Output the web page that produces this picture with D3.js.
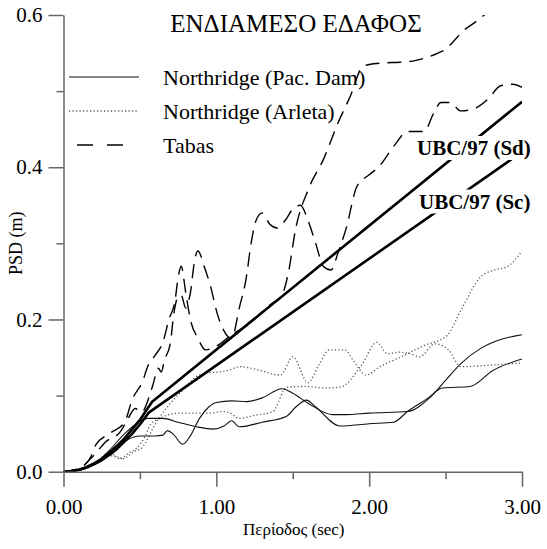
<!DOCTYPE html>
<html>
<head>
<meta charset="utf-8">
<script src="https://cdn.jsdelivr.net/npm/d3@7"></script>
<style>
body { margin: 0; background: #fff; }
.axis path, .axis line { stroke: #666; stroke-width: 1.5; }
</style>
</head>
<body>
<svg id="chart"></svg>
<script>
/* global d3 */

const title = 'ΕΝΔΙΑΜΕΣΟ ΕΔΑΦΟΣ';
const xLabel = 'Περίοδος (sec)';
const yLabel = 'PSD (m)';
const xTicks = [0, 1, 2, 3];
const xMinor = [0.5, 1.5, 2.5];
const yTicks = [0, 0.2, 0.4, 0.6];
const yMinor = [0.1, 0.3, 0.5];

// [period (sec), PSD (m)]
const ubcSd = [[0, 0], [0.05, 0.0005], [0.1, 0.0025], [0.15, 0.006], [0.2, 0.011], [0.25, 0.017], [0.3, 0.025],
	[0.35, 0.034], [0.4, 0.044], [0.45, 0.056], [0.5, 0.068], [0.55, 0.083], [0.58, 0.092], [3, 0.486]];
const ubcSc = [[0, 0], [0.05, 0.0005], [0.1, 0.0023], [0.15, 0.0055], [0.2, 0.01], [0.25, 0.0155], [0.3, 0.022],
	[0.35, 0.03], [0.4, 0.04], [0.45, 0.05], [0.5, 0.062], [0.56, 0.078], [3, 0.42]];

const pacDam1 = [[0, 0], [0.1, 0.002], [0.2, 0.009], [0.25, 0.014], [0.3, 0.022], [0.36, 0.032], [0.42, 0.042],
	[0.5, 0.047], [0.6, 0.047], [0.65, 0.048], [0.68, 0.054], [0.72, 0.049], [0.78, 0.036], [0.83, 0.047],
	[0.89, 0.07], [0.95, 0.085], [1.0, 0.091], [1.1, 0.093], [1.2, 0.092], [1.3, 0.097], [1.43, 0.109],
	[1.5, 0.103], [1.6, 0.09], [1.76, 0.075], [1.85, 0.075], [2.0, 0.077], [2.25, 0.079], [2.39, 0.096],
	[2.5, 0.12], [2.6, 0.142], [2.73, 0.162], [2.85, 0.173], [3.0, 0.18]];
const pacDam2 = [[0, 0], [0.1, 0.002], [0.2, 0.01], [0.3, 0.028], [0.4, 0.05], [0.5, 0.066], [0.55, 0.07],
	[0.65, 0.07], [0.75, 0.065], [0.87, 0.059], [0.98, 0.056], [1.05, 0.06], [1.1, 0.067], [1.15, 0.059],
	[1.3, 0.065], [1.46, 0.073], [1.52, 0.085], [1.59, 0.094], [1.65, 0.085], [1.81, 0.06], [2.0, 0.063],
	[2.16, 0.065], [2.25, 0.079], [2.38, 0.096], [2.48, 0.11], [2.66, 0.112], [2.81, 0.133], [3.0, 0.148]];

const arleta1 = [[0, 0], [0.1, 0.002], [0.2, 0.009], [0.3, 0.025], [0.35, 0.02], [0.39, 0.017], [0.45, 0.025],
	[0.52, 0.033], [0.58, 0.055], [0.63, 0.072], [0.7, 0.09], [0.77, 0.105], [0.87, 0.125], [0.95, 0.13],
	[1.02, 0.131], [1.09, 0.134], [1.15, 0.138], [1.25, 0.135], [1.42, 0.127], [1.5, 0.151], [1.6, 0.117],
	[1.67, 0.14], [1.74, 0.16], [1.84, 0.16], [1.9, 0.145], [1.98, 0.127], [2.07, 0.138], [2.2, 0.15],
	[2.35, 0.165], [2.51, 0.179], [2.6, 0.212], [2.73, 0.256], [2.82, 0.265], [2.9, 0.269], [3.0, 0.29]];
const arleta2 = [[0, 0], [0.1, 0.002], [0.2, 0.009], [0.28, 0.022], [0.33, 0.02], [0.37, 0.017], [0.43, 0.025],
	[0.48, 0.031], [0.53, 0.045], [0.57, 0.062], [0.63, 0.07], [0.76, 0.077], [0.86, 0.077], [0.96, 0.077],
	[1.04, 0.079], [1.08, 0.078], [1.15, 0.07], [1.25, 0.074], [1.37, 0.079], [1.46, 0.111], [1.59, 0.112],
	[1.7, 0.11], [1.81, 0.111], [1.95, 0.14], [2.05, 0.17], [2.12, 0.155], [2.2, 0.157], [2.27, 0.155],
	[2.33, 0.151], [2.43, 0.168], [2.52, 0.16], [2.6, 0.138], [2.8, 0.14], [3.0, 0.143]];

const tabas1 = [[0, 0], [0.1, 0.004], [0.18, 0.02], [0.21, 0.035], [0.3, 0.05], [0.4, 0.065], [0.45, 0.095],
	[0.52, 0.12], [0.55, 0.138], [0.6, 0.153], [0.65, 0.17], [0.69, 0.2], [0.73, 0.225], [0.75, 0.255],
	[0.77, 0.27], [0.8, 0.235], [0.83, 0.2], [0.88, 0.175], [0.93, 0.16], [1.0, 0.165], [1.1, 0.18],
	[1.22, 0.195], [1.3, 0.21], [1.37, 0.222], [1.42, 0.228], [1.47, 0.26], [1.52, 0.32], [1.6, 0.37],
	[1.7, 0.41], [1.8, 0.46], [1.88, 0.495], [1.95, 0.53], [2.0, 0.535], [2.1, 0.537], [2.2, 0.538],
	[2.3, 0.54], [2.45, 0.55], [2.5, 0.555], [2.55, 0.565], [2.62, 0.58], [2.69, 0.59], [2.78, 0.605], [2.85, 0.62]];
const tabas2 = [[0, 0], [0.1, 0.004], [0.2, 0.022], [0.28, 0.04], [0.37, 0.052], [0.41, 0.065], [0.47, 0.083],
	[0.51, 0.078], [0.56, 0.098], [0.585, 0.114], [0.62, 0.136], [0.64, 0.131], [0.66, 0.146], [0.7, 0.17],
	[0.72, 0.205], [0.75, 0.23], [0.77, 0.232], [0.8, 0.215], [0.83, 0.235], [0.86, 0.28], [0.88, 0.29],
	[0.92, 0.27], [0.96, 0.245], [1.01, 0.205], [1.05, 0.185], [1.1, 0.175], [1.15, 0.215], [1.2, 0.26],
	[1.22, 0.29], [1.26, 0.33], [1.3, 0.34], [1.35, 0.325], [1.4, 0.32], [1.45, 0.33], [1.5, 0.345],
	[1.55, 0.35], [1.6, 0.33], [1.65, 0.3], [1.7, 0.27], [1.75, 0.265], [1.8, 0.29], [1.85, 0.32],
	[1.92, 0.375], [2.0, 0.39], [2.06, 0.4], [2.17, 0.43], [2.25, 0.447], [2.36, 0.447], [2.42, 0.47],
	[2.47, 0.485], [2.53, 0.485], [2.6, 0.474], [2.7, 0.478], [2.78, 0.49], [2.86, 0.507], [2.94, 0.509], [3.0, 0.505]];

const legendItems = ['Northridge (Pac. Dam)', 'Northridge (Arleta)', 'Tabas'];
const ubcLabels = ['UBC/97 (Sd)', 'UBC/97 (Sc)'];

const W = 547;
const H = 549;
const FONT = '"Liberation Serif", Tinos, "Times New Roman", Times, "Nimbus Roman", "DejaVu Serif", serif';

const STYLE = {
	solid: { stroke: '#111', width: 1.1, dash: null },
	dotted: { stroke: '#555', width: 1.3, dash: '1.2,2.3' },
	dashed: { stroke: '#000', width: 1.4, dash: '14,8' },
	ubc: { stroke: '#000', width: 2.6, dash: null }
};

const x = d3.scaleLinear().domain([0, 3]).range([63.5, 522]);
const y = d3.scaleLinear().domain([0, 0.6]).range([471.7, 15]);

const $svg = d3.select('#chart').attr('width', W).attr('height', H).style('display', 'block');

$svg.append('defs').append('clipPath').attr('id', 'plot-clip')
	.append('rect')
	.attr('x', x(0)).attr('y', y(0.6))
	.attr('width', x(3) - x(0)).attr('height', y(0) - y(0.6));

const smooth = d3.line().x(d => x(d[0])).y(d => y(d[1])).curve(d3.curveMonotoneX);
const straight = d3.line().x(d => x(d[0])).y(d => y(d[1]));

const $lines = $svg.append('g').attr('clip-path', 'url(#plot-clip)');

function drawSeries(data, style, gen) {
	$lines.append('path')
		.datum(data)
		.attr('d', gen)
		.attr('fill', 'none')
		.attr('stroke', style.stroke)
		.attr('stroke-width', style.width)
		.attr('stroke-dasharray', style.dash)
		.attr('stroke-linejoin', 'round');
}

drawSeries(arleta1, STYLE.dotted, smooth);
drawSeries(arleta2, STYLE.dotted, smooth);
drawSeries(pacDam1, STYLE.solid, smooth);
drawSeries(pacDam2, STYLE.solid, smooth);
drawSeries(tabas1, STYLE.dashed, smooth);
drawSeries(tabas2, STYLE.dashed, smooth);
drawSeries(ubcSd, STYLE.ubc, straight);
drawSeries(ubcSc, STYLE.ubc, straight);

// UBC labels sit on a white box that hides the lines behind them
const labelPos = [[417, 155], [419, 208.5]];
ubcLabels.forEach((txt, i) => {
	const $g = $svg.append('g');
	const $t = $g.append('text')
		.attr('x', labelPos[i][0]).attr('y', labelPos[i][1])
		.attr('font-family', FONT)
		.attr('font-size', 21).attr('font-weight', 'bold')
		.text(txt);
	const bb = $t.node().getBBox();
	$g.insert('rect', 'text')
		.attr('x', bb.x - 2).attr('y', bb.y)
		.attr('width', bb.width + 4).attr('height', bb.height)
		.attr('fill', '#fff');
});

// axes
const $xAxis = $svg.append('g').attr('class', 'axis').attr('transform', `translate(0,${y(0)})`);
$xAxis.call(d3.axisBottom(x).tickValues(xTicks).tickSize(15).tickSizeOuter(0).tickPadding(12).tickFormat(d3.format('.2f')));
$xAxis.append('g').call(d3.axisBottom(x).tickValues(xMinor).tickSize(7.5).tickFormat(''))
	.select('.domain').remove();

const $yAxis = $svg.append('g').attr('class', 'axis').attr('transform', `translate(${x(0)},0)`);
$yAxis.call(d3.axisLeft(y).tickValues(yTicks).tickSize(15).tickSizeOuter(0).tickPadding(6).tickFormat(d3.format('.1f')));
$yAxis.append('g').call(d3.axisLeft(y).tickValues(yMinor).tickSize(7).tickFormat(''))
	.select('.domain').remove();

$svg.selectAll('.axis').attr('font-family', FONT).attr('font-size', 21);
$svg.selectAll('.axis text').attr('fill', '#000');

$svg.append('text')
	.attr('x', (x(0) + x(3)) / 2 + 1).attr('y', 535)
	.attr('text-anchor', 'middle')
	.attr('font-family', FONT).attr('font-size', 17)
	.text(xLabel);

$svg.append('text')
	.attr('transform', `translate(22,${(y(0) + y(0.6)) / 2}) rotate(-90)`)
	.attr('text-anchor', 'middle')
	.attr('font-family', FONT).attr('font-size', 18)
	.text(yLabel);

$svg.append('text')
	.attr('x', 296).attr('y', 32)
	.attr('text-anchor', 'middle')
	.attr('font-family', FONT).attr('font-size', 25)
	.text(title);

// legend
const legendStyles = [STYLE.solid, STYLE.dotted, STYLE.dashed];
const legendY = [77, 111, 145];
legendItems.forEach((txt, i) => {
	const st = legendStyles[i];
	$svg.append('line')
		.attr('x1', 69).attr('x2', 139)
		.attr('y1', legendY[i]).attr('y2', legendY[i])
		.attr('stroke', st.stroke)
		.attr('stroke-width', st.width)
		.attr('stroke-dasharray', i === 2 ? '0,8,16,14,16,17,2,20' : st.dash);
	$svg.append('text')
		.attr('x', 163).attr('y', legendY[i] + 8)
		.attr('font-family', FONT)
		.attr('font-size', 22)
		.text(txt);
});
</script>
</body>
</html>
